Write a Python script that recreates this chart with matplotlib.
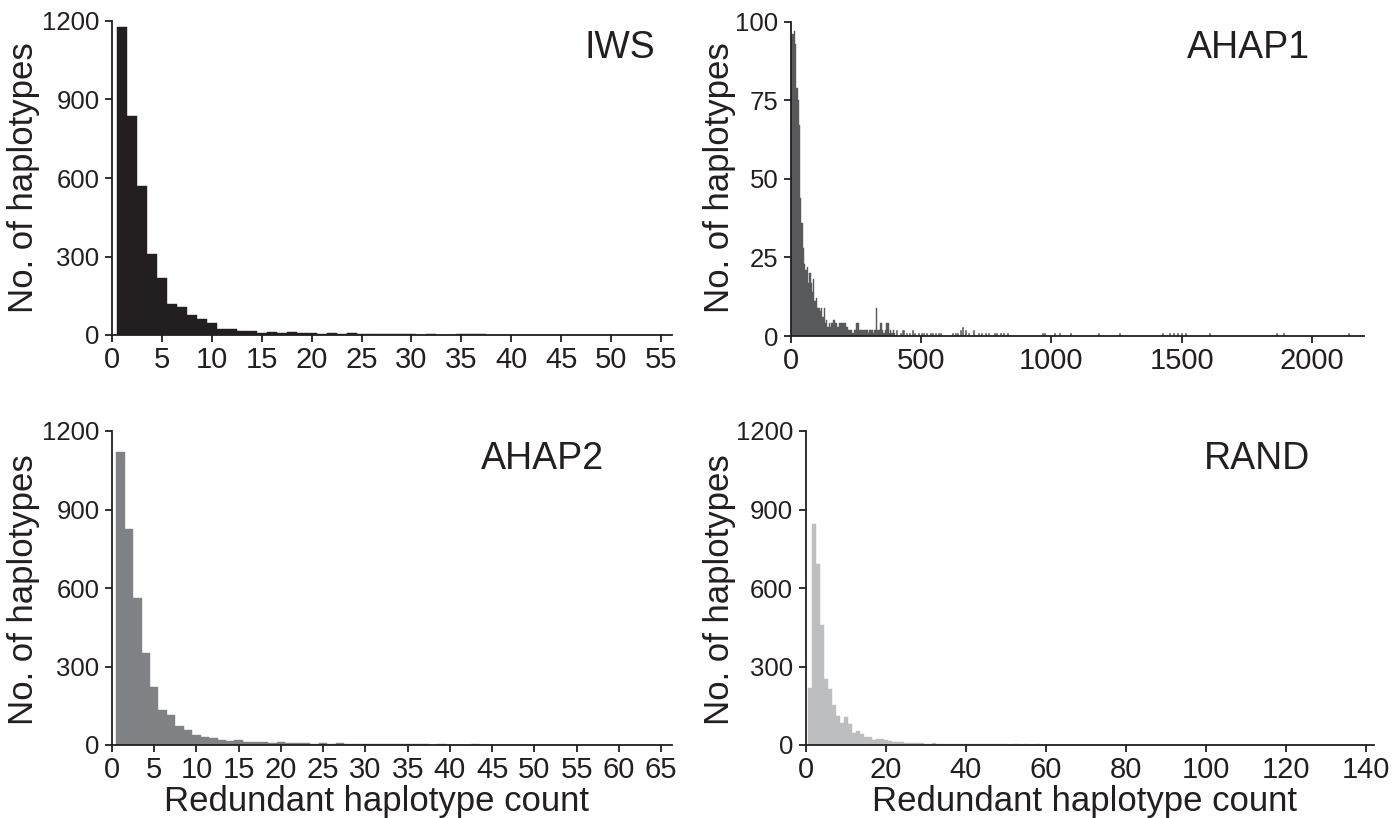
import numpy as np
import matplotlib.pyplot as plt

plt.rcParams['font.family'] = ['Liberation Sans', 'DejaVu Sans']

# ---- data ----
# IWS: counts for redundant haplotype count 1..55
iws_counts = [1176, 838, 570, 310, 219, 120, 108, 77, 61, 45,
              22, 24, 15, 16, 8, 10, 7, 10, 7, 7,
              4, 8, 5, 7, 5, 3, 4, 3, 2, 2,
              1, 2, 1, 1, 2, 4, 2, 1, 1, 1,
              1, 0, 1, 0, 1, 0, 0, 1, 0, 0,
              1, 0, 0, 0, 1]

# AHAP1: 5-wide bins from 0 to 400, then isolated tail bars
ahap1_bin_width = 5
ahap1_counts = [95, 96, 97, 93, 79, 75, 67, 44, 36, 28,
                23, 21, 22, 17, 20, 17, 14, 18, 11, 12,
                9, 9, 8, 9, 6, 9, 4, 5, 3, 4,
                3, 4, 5, 5, 4, 3, 3, 4, 4, 4,
                4, 4, 3, 3, 2, 2, 2, 1, 2, 2,
                4, 4, 2, 2, 2, 2, 2, 2, 2, 1,
                2, 2, 2, 1, 2, 9, 2, 2, 4, 4,
                2, 1, 2, 4, 4, 1, 2, 1, 2, 1]
ahap1_tail_x = [405, 420, 430, 445, 455, 465, 475, 490, 500, 510,
                520, 535, 545, 555, 565, 575, 620, 630, 640, 650,
                660, 670, 680, 700, 720, 730, 745, 760, 780, 790,
                805, 815, 830, 965, 975, 1010, 1030, 1072, 1180, 1260,
                1427, 1455, 1468, 1485, 1500, 1513, 1605, 1865, 1890, 2140]
ahap1_tail_counts = [2, 1, 2, 1, 1, 2, 1, 1, 1, 1,
                     1, 1, 1, 1, 1, 1, 1, 1, 1, 2,
                     3, 2, 1, 2, 1, 1, 1, 1, 1, 1,
                     1, 1, 1, 1, 1, 1, 1, 1, 1, 1,
                     1, 1, 1, 1, 1, 1, 1, 1, 1, 1]

# AHAP2: counts for 1..65
ahap2_counts = [1120, 827, 560, 352, 220, 134, 115, 73, 57, 38,
                29, 25, 19, 15, 19, 13, 11, 10, 9, 10,
                9, 8, 6, 5, 6, 5, 9, 5, 4, 4,
                3, 3, 2, 3, 2, 2, 2, 1, 2, 1,
                1, 1, 2, 1, 1, 0, 1, 1, 0, 1,
                0, 0, 1, 0, 0, 1, 0, 0, 0, 1,
                0, 0, 0, 0, 1]

# RAND: counts for 1..140
rand_counts = [217, 845, 692, 460, 251, 213, 153, 111, 83, 106,
               80, 47, 54, 41, 32, 29, 19, 22, 22, 19,
               15, 11, 11, 10, 8, 9, 7, 6, 7, 5,
               5, 6, 4, 5, 4, 3, 4, 3, 3, 4,
               3, 3, 2, 3, 2, 2, 3, 2, 2, 2,
               1, 2, 2, 1, 2, 1, 1, 2, 1, 1,
               1, 1, 1, 1, 1, 0, 1, 1, 0, 1,
               1, 0, 1, 0, 1, 0, 1, 0, 0, 1,
               0, 1, 0, 0, 1, 0, 0, 0, 1, 0,
               0, 1, 0, 0, 0, 0, 1, 0, 0, 0,
               1, 0, 0, 0, 0, 0, 0, 1, 0, 0,
               0, 0, 0, 0, 1, 0, 0, 0, 0, 0,
               0, 0, 0, 0, 0, 0, 1, 0, 0, 0,
               0, 0, 0, 0, 0, 0, 0, 0, 0, 1]

panel_titles = ['IWS', 'AHAP1', 'AHAP2', 'RAND']
colors = ['#231f20', '#58595b', '#808285', '#bcbec0']
ink = '#231f20'

W, H = 1397, 818
fig = plt.figure(figsize=(W / 100, H / 100), dpi=100)


def px_axes(left, right, top, bottom):
    return fig.add_axes([left / W, 1 - bottom / H, (right - left) / W, (bottom - top) / H])


def style(ax, xlim, xticks, ylim, yticks):
    ax.set_xlim(*xlim)
    ax.set_ylim(*ylim)
    ax.set_xticks(xticks)
    ax.set_yticks(yticks)
    for s in ['top', 'right']:
        ax.spines[s].set_visible(False)
    for s in ['left', 'bottom']:
        ax.spines[s].set_linewidth(1.3)
        ax.spines[s].set_color(ink)
    ax.tick_params(axis='both', direction='out', length=5, width=1.3, colors=ink)
    ax.tick_params(axis='x', labelsize=21, pad=3)
    ax.tick_params(axis='y', labelsize=18.5, pad=4)


# top left: IWS
ax1 = px_axes(112, 672, 21, 335)
ax1.bar(np.arange(1, len(iws_counts) + 1), iws_counts, width=1.0,
        color=colors[0], edgecolor=colors[0], linewidth=0.3)
style(ax1, (0, 56.1), range(0, 56, 5), (0, 1200), [0, 300, 600, 900, 1200])

# top right: AHAP1
ax2 = px_axes(791, 1364, 21.5, 336)
edges = np.arange(len(ahap1_counts)) * ahap1_bin_width
ax2.bar(edges, ahap1_counts, width=ahap1_bin_width, align='edge',
        color=colors[1], edgecolor=colors[1], linewidth=0.3)
ax2.bar(ahap1_tail_x, ahap1_tail_counts, width=4,
        color=colors[1], edgecolor=colors[1], linewidth=0.4)
style(ax2, (0, 2200), [0, 500, 1000, 1500, 2000], (0, 100), [0, 25, 50, 75, 100])

# bottom left: AHAP2
ax3 = px_axes(112, 672, 431, 745)
ax3.bar(np.arange(1, len(ahap2_counts) + 1), ahap2_counts, width=1.0,
        color=colors[2], edgecolor=colors[2], linewidth=0.3)
style(ax3, (0, 66.3), range(0, 66, 5), (0, 1200), [0, 300, 600, 900, 1200])

# bottom right: RAND
ax4 = px_axes(805.7, 1374, 431, 745)
ax4.bar(np.arange(1, len(rand_counts) + 1), rand_counts, width=1.0,
        color=colors[3], edgecolor=colors[3], linewidth=0.3)
style(ax4, (0, 142), range(0, 141, 20), (0, 1200), [0, 300, 600, 900, 1200])

# panel titles
ax1.text(0.97, 0.915, panel_titles[0], transform=ax1.transAxes, ha='right', va='center', fontsize=27, color=ink)
ax2.text(0.906, 0.915, panel_titles[1], transform=ax2.transAxes, ha='right', va='center', fontsize=27, color=ink)
ax3.text(0.879, 0.91, panel_titles[2], transform=ax3.transAxes, ha='right', va='center', fontsize=27, color=ink)
ax4.text(0.888, 0.91, panel_titles[3], transform=ax4.transAxes, ha='right', va='center', fontsize=27, color=ink)

# axis labels
for x, y in [(24, 178), (720, 178), (24, 590), (720, 590)]:
    fig.text(x / W, 1 - y / H, 'No. of haplotypes', rotation=90, ha='center', va='center',
             fontsize=25, color=ink)
for x in [376, 1085]:
    fig.text(x / W, 1 - 801 / H, 'Redundant haplotype count', ha='center', va='center',
             fontsize=25, color=ink)

fig.savefig('out.png', dpi=100, facecolor='white')
